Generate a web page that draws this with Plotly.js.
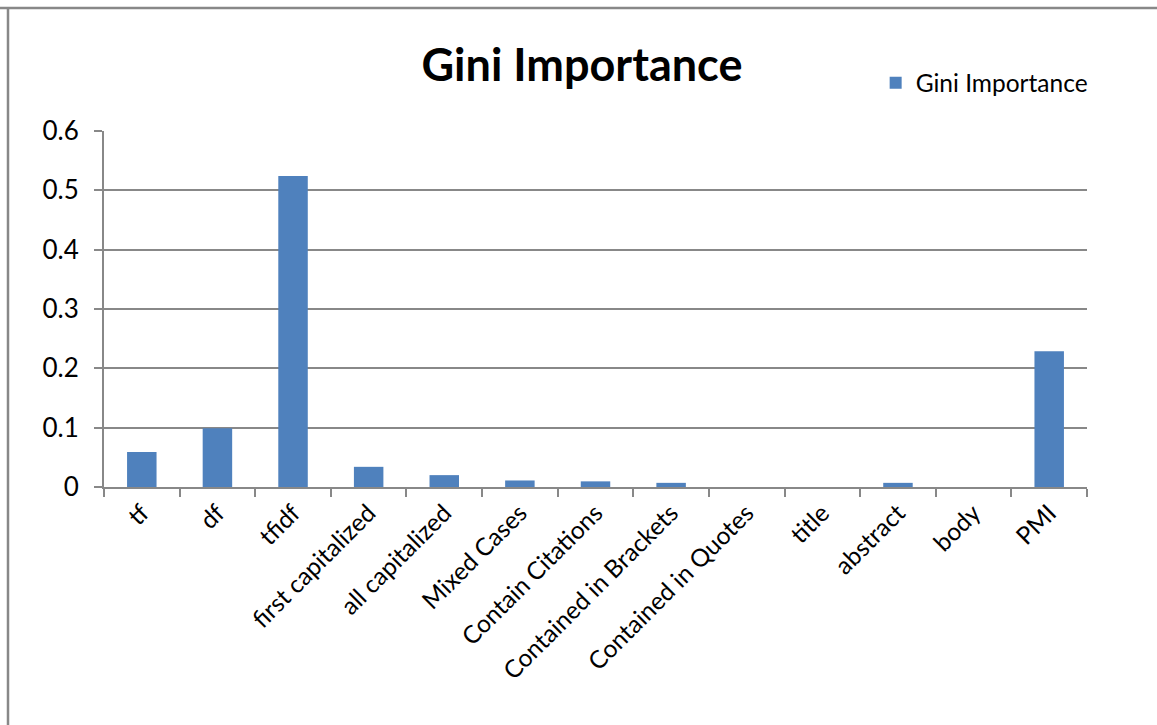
<!DOCTYPE html>
<html>
<head>
<meta charset="utf-8">
<script src="https://cdn.plot.ly/plotly-3.0.1.min.js"></script>
<style>html,body{margin:0;padding:0;background:#fff;}#chart{width:1157px;height:725px;}</style>
</head>
<body>
<div id="chart"></div>
<script>
const categories = ["tf", "df", "tfidf", "first capitalized", "all capitalized", "Mixed Cases", "Contain Citations", "Contained in Brackets", "Contained in Quotes", "title", "abstract", "body", "PMI"];
const giniValues = [0.059, 0.099, 0.524, 0.034, 0.020, 0.011, 0.0095, 0.007, 0, 0, 0.007, 0, 0.229];
const seriesName = "Gini Importance";
const yTickVals = [0, 0.1, 0.2, 0.3, 0.4, 0.5, 0.6];
const yTickText = ["0", "0.1", "0.2", "0.3", "0.4", "0.5", "0.6"];

const fontFam = "Lato, 'Open Sans', sans-serif";
const gray = "#888888";

const trace = {
  type: "bar",
  x: categories,
  y: giniValues,
  name: seriesName,
  marker: {color: "#4f81bd", line: {width: 0}},
  showlegend: true
};

const layout = {
  width: 1157, height: 725,
  paper_bgcolor: "#fff", plot_bgcolor: "#fff",
  margin: {l: 104, r: 70, t: 131, b: 238},
  bargap: 0.61,
  font: {family: fontFam, color: "#000", size: 24},
  title: {text: "<b>Gini Importance</b>", font: {family: fontFam, size: 45, color: "#000"},
          x: 0.503, xref: "container", xanchor: "center", y: 0.91, yref: "container", yanchor: "middle"},
  showlegend: true,
  legend: {x: 0.785, xanchor: "left", y: 1.135, yanchor: "middle", font: {family: fontFam, size: 24.5, color: "#000"},
           bgcolor: "rgba(0,0,0,0)", itemwidth: 30},
  xaxis: {
    type: "category", tickangle: -45, tickson: "boundaries",
    ticks: "outside", ticklen: 8, tickcolor: gray, tickwidth: 2,
    showline: true, linecolor: gray, linewidth: 2,
    showgrid: false, tickfont: {family: fontFam, size: 24.5, color: "#000"},
    fixedrange: true
  },
  yaxis: {
    range: [0, 0.6], tickvals: yTickVals, ticktext: yTickText,
    ticks: "outside", ticklen: 8, tickcolor: gray, tickwidth: 2,
    showline: true, linecolor: gray, linewidth: 2,
    showgrid: true, gridcolor: gray, gridwidth: 2, zeroline: false,
    tickfont: {family: fontFam, size: 26, color: "#000"}, ticklabelstandoff: 10,
    fixedrange: true
  },
  shapes: [
    {type: "line", xref: "paper", yref: "paper", x0: -104/983, x1: 1.1, y0: 1 + (131-8)/356, y1: 1 + (131-8)/356, line: {color: gray, width: 2.5}},
    {type: "line", xref: "paper", yref: "paper", x0: -96/983, x1: -96/983, y0: 1 + (131-8)/356, y1: -238/356, line: {color: gray, width: 2.5}}
  ]
};

Plotly.newPlot("chart", [trace], layout, {displayModeBar: false, staticPlot: true});
</script>
</body>
</html>
